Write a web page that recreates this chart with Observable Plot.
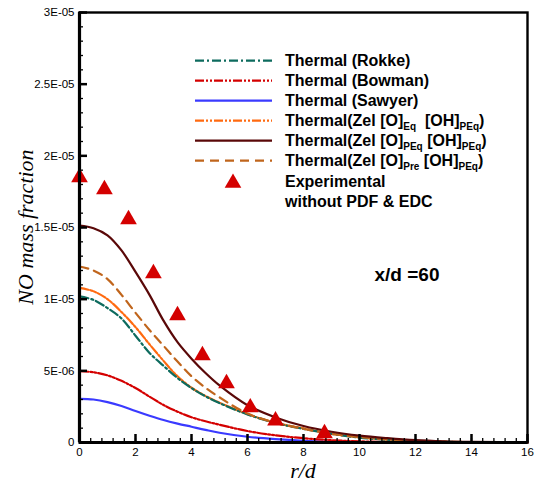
<!DOCTYPE html>
<html>
<head>
<meta charset="utf-8">
<script src="https://cdn.jsdelivr.net/npm/d3@7"></script>
<script src="https://cdn.jsdelivr.net/npm/@observablehq/plot@0.6"></script>
<style>
  html, body { margin: 0; padding: 0; background: #fff; }
  #wrap { position: relative; width: 535px; height: 483px; }
  #wrap > svg { position: absolute; left: 0; top: 0; }
  #overlay { pointer-events: none; }
</style>
</head>
<body>
<div id="wrap"></div>
<script>
// ---- data (NO mass fraction values in units of 1e-6) ----
const rd = [0, 0.5, 1, 1.5, 2, 2.5, 3, 3.5, 4, 4.5, 5, 6, 7, 8, 9, 10, 11, 12, 13, 14, 15, 16];
const rokke   = [10.19, 9.95, 9.38, 8.65, 7.45, 6.25, 5.35, 4.5, 3.8, 3.22, 2.75, 1.96, 1.36, 0.95, 0.6, 0.34, 0.19, 0.1, 0.05, 0.02, 0.01, 0];
const bowman  = [4.97, 4.9, 4.68, 4.3, 3.8, 3.2, 2.62, 2.15, 1.76, 1.48, 1.24, 0.8, 0.5, 0.3, 0.16, 0.08, 0.04, 0.02, 0.01, 0, 0, 0];
const sawyer  = [3.05, 3.0, 2.82, 2.55, 2.2, 1.87, 1.57, 1.32, 1.1, 0.88, 0.68, 0.4, 0.23, 0.12, 0.06, 0.03, 0.015, 0.01, 0, 0, 0, 0];
const zelEqPEq  = [10.79, 10.55, 10.0, 9.1, 8.05, 6.85, 5.7, 4.62, 3.82, 3.25, 2.78, 1.98, 1.38, 0.98, 0.62, 0.36, 0.2, 0.1, 0.05, 0.02, 0.01, 0];
const zelPEqPEq = [15.14, 14.95, 14.45, 13.4, 11.9, 10.3, 8.5, 7.0, 5.85, 4.85, 3.98, 2.6, 1.75, 1.15, 0.75, 0.48, 0.3, 0.16, 0.08, 0.04, 0.02, 0.01];
const zelPrePEq = [12.28, 12.0, 11.4, 10.3, 9.05, 7.85, 6.75, 5.65, 4.62, 3.82, 3.15, 2.02, 1.38, 0.95, 0.6, 0.38, 0.22, 0.12, 0.06, 0.03, 0.015, 0.01];
const expRd = [0, 0.89, 1.75, 2.64, 3.5, 4.39, 5.25, 6.1, 7.0, 8.75];
const expNO = [18.49, 17.65, 15.56, 11.79, 8.86, 6.07, 4.12, 2.44, 1.53, 0.63];

const seriesNames = ["Thermal (Rokke)", "Thermal (Bowman)", "Thermal (Sawyer)",
  "Thermal(Zel [O]Eq [OH]PEq)", "Thermal(Zel [O]PEq [OH]PEq)", "Thermal(Zel [O]Pre [OH]PEq)"];
const seriesValues = [rokke, bowman, sawyer, zelEqPEq, zelPEqPEq, zelPrePEq];
const seriesColors = ["#0d6b5e", "#d40000", "#3a3aff", "#ff6a10", "#5a0808", "#c0651c"];
const seriesDash = ["9,3,2,3", "9,2,2,2,2,2", null, "9,2,2,2,2,2", null, "9,6"];
const drawOrder = [2, 1, 3, 0, 5, 4];

const xTicks = [0, 2, 4, 6, 8, 10, 12, 14, 16];
const yTicks = [0, 5e-6, 1e-5, 1.5e-5, 2e-5, 2.5e-5, 3e-5];
const xMinor = d3.range(0, 16.001, 0.4);
const yMinor = d3.range(0, 31).map(i => i * 1e-6);

const fmtY = d => d === 0 ? "0" :
  d.toExponential().replace(/e([+-])(\d+)$/, (m, s, e) => "E" + s + e.padStart(2, "0"));

// ---- layout ----
const W = 535, H = 483, mL = 79, mR = 8, mT = 12, mB = 41;
const fw = W - mL - mR, fh = H - mT - mB;

// ---- tables ----
const lineMarks = drawOrder.map(i => {
  const rows = rd.map((x, j) => ({x, y: seriesValues[i][j] * 1e-6}));
  const opts = {x: "x", y: "y", stroke: seriesColors[i], strokeWidth: 2.2, curve: "catmull-rom"};
  if (seriesDash[i]) opts.strokeDasharray = seriesDash[i];
  return Plot.line(rows, opts);
});
const expRows = expRd.map((x, j) => ({x, y: expNO[j] * 1e-6}));

const plot = Plot.plot({
  width: W, height: H,
  marginLeft: mL, marginRight: mR, marginTop: mT, marginBottom: mB,
  style: {fontFamily: "'Liberation Sans', Arial, sans-serif", fontSize: "11.5px", color: "#000", background: "#fff"},
  x: {domain: [0, 16], label: null},
  y: {domain: [0, 3e-5], label: null},
  marks: [
    ...lineMarks,
    Plot.dot(expRows, {x: "x", y: "y", symbol: "triangle", r: 6.2, fill: "#d40000", stroke: "none"}),
    // inward minor and major ticks
    Plot.tickX(xMinor, {x: d => d, insetTop: fh - 4, stroke: "#000", strokeWidth: 1.3}),
    Plot.tickX(xTicks, {x: d => d, insetTop: fh - 8, stroke: "#000", strokeWidth: 2.5}),
    Plot.tickY(yMinor, {y: d => d, insetRight: fw - 4, stroke: "#000", strokeWidth: 1.3}),
    Plot.tickY(yTicks, {y: d => d, insetRight: fw - 8, stroke: "#000", strokeWidth: 2.5}),
    // tick labels
    Plot.axisX({ticks: xTicks, tickSize: 0, tickPadding: 5, tickFormat: d => String(d), label: null}),
    Plot.axisY({ticks: yTicks, tickSize: 0, tickPadding: 5, tickFormat: fmtY, label: null}),
    Plot.frame({stroke: "#000", strokeWidth: 2.4}),
    Plot.ruleX([0], {stroke: "#000", strokeWidth: 3.2}),
    Plot.ruleY([0], {stroke: "#000", strokeWidth: 3.2})
  ]
});
const wrap = document.getElementById("wrap");
wrap.appendChild(plot);

// ---- overlay: axis titles, legend, annotation ----
const svg = d3.select(wrap).append("svg").attr("id", "overlay")
  .attr("width", W).attr("height", H);

svg.append("text").text("NO mass fraction")
  .attr("transform", "translate(33,227) rotate(-90)")
  .attr("text-anchor", "middle")
  .style("font-family", "'Liberation Serif', 'Times New Roman', serif")
  .style("font-style", "italic").style("font-size", "22px");
svg.append("text").text("r/d")
  .attr("x", 303).attr("y", 478).attr("text-anchor", "middle")
  .style("font-family", "'Liberation Serif', 'Times New Roman', serif")
  .style("font-style", "italic").style("font-size", "22px");

svg.append("text").text("x/d =60")
  .attr("x", 407).attr("y", 281).attr("text-anchor", "middle")
  .style("font-family", "'Liberation Sans', Arial, sans-serif")
  .style("font-weight", "bold").style("font-size", "19px");

const legendLabels = [
  [["Thermal (Rokke)"]],
  [["Thermal (Bowman)"]],
  [["Thermal (Sawyer)"]],
  [["Thermal(Zel [O]"], ["Eq", 1], ["\u00a0\u00a0[OH]"], ["PEq", 1], [")"]],
  [["Thermal(Zel [O]"], ["PEq", 1], ["\u00a0[OH]"], ["PEq", 1], [")"]],
  [["Thermal(Zel [O]"], ["Pre", 1], ["\u00a0[OH]"], ["PEq", 1], [")"]]
];
const lg = svg.append("g")
  .style("font-family", "'Liberation Sans', Arial, sans-serif")
  .style("font-weight", "bold");
legendLabels.forEach((parts, i) => {
  const cy = 60.7 + 20 * i;
  const ln = lg.append("line").attr("x1", 195).attr("x2", 272).attr("y1", cy).attr("y2", cy)
    .attr("stroke", seriesColors[i]).attr("stroke-width", 2.2);
  if (seriesDash[i]) ln.attr("stroke-dasharray", seriesDash[i]);
  const t = lg.append("text").attr("x", 285).attr("y", cy + 5.7).style("font-size", "16px");
  parts.forEach(([s, sub]) => {
    if (sub) t.append("tspan").text(s).attr("dy", 4).style("font-size", "10px");
    else {
      const sp = t.append("tspan").text(s);
      if (t.selectAll("tspan").size() > 1) sp.attr("dy", -4);
    }
  });
});
lg.append("path").attr("d", d3.symbol(d3.symbolTriangle, 120)())
  .attr("transform", "translate(233,183)").attr("fill", "#d40000");
lg.append("text").text("Experimental").attr("x", 285).attr("y", 186.5).style("font-size", "16px");
lg.append("text").text("without PDF & EDC").attr("x", 285).attr("y", 206.5).style("font-size", "16px");
</script>
</body>
</html>
